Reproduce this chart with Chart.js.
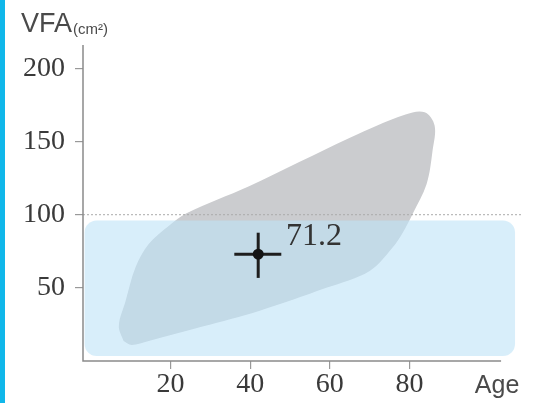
<!DOCTYPE html>
<html>
<head>
<meta charset="utf-8">
<script src="https://cdn.jsdelivr.net/npm/chart.js@4.4.1/dist/chart.umd.min.js"></script>
<style>
  html, body { margin: 0; padding: 0; background: #fff; }
  #wrap { position: relative; width: 542px; height: 403px; }
  #bar { position: absolute; left: 0; top: 0; width: 5px; height: 403px; background: #10b7ea; }
</style>
</head>
<body>
<div id="wrap">
  <canvas id="vfaChart" width="542" height="403"></canvas>
  <div id="bar"></div>
</div>
<script>
// ticks
const xTickVals = [20, 40, 60, 80];
const yTickVals = [50, 100, 150, 200];
const xRange = [-2, 108];
const yRange = [0, 216];
const xAxisEnd = 103;

// grey reference region (age, VFA) outline
const blobAge = [8.2, 7.0, 8.7, 11.2, 14.5, 19.6, 24.0, 39.7, 52.3, 64.9, 79.0, 83.8, 86.3, 85.8, 84.3, 80.8, 78.3, 75.7, 70.0, 59.1, 42.2, 28.0, 14.5, 10.2, 8.2];
const blobVfa = [13.7, 24, 41, 64, 80, 92.5, 101, 119.5, 136, 152.5, 168.5, 170, 161, 144, 121, 100.7, 87.7, 77.4, 61.6, 50, 34.2, 23.5, 13.7, 11, 13.7];

// normal range box (below 100 cm2)
const boxAge = [-1.6, 106.5];
const boxVfa = [3.4, 96];

// threshold line
const threshold = 100;

// patient measurement
const patientAge = 42;
const patientVfa = 73;
const ageErr = [36, 47.8];
const vfaErr = [56.8, 87.7];
const patientLabel = '71.2';
const labelAt = [49, 79];

const ctx = document.getElementById('vfaChart').getContext('2d');

const decor = {
  id: 'decor',
  afterDatasetDraw(chart, args) {
    if (args.index !== 4) return;
    const c = chart.ctx, xs = chart.scales.x, ys = chart.scales.y;
    // fill blob shape
    const line = args.meta.dataset;
    c.save();
    c.beginPath();
    line.path(c);
    c.closePath();
    c.fillStyle = '#cbcccf';
    c.fill();
    // blue box on top
    const x0 = xs.getPixelForValue(boxAge[0]), x1 = xs.getPixelForValue(boxAge[1]);
    const y0 = ys.getPixelForValue(boxVfa[1]), y1 = ys.getPixelForValue(boxVfa[0]);
    c.beginPath();
    c.roundRect(x0, y0, x1 - x0, y1 - y0, 12);
    c.fillStyle = 'rgba(190,227,247,0.6)';
    c.fill();
    c.restore();
  },
  afterDraw(chart) {
    const c = chart.ctx, xs = chart.scales.x, ys = chart.scales.y, a = chart.chartArea;
    c.save();
    // axis lines
    c.strokeStyle = '#8a8a8a';
    c.lineWidth = 1.5;
    c.beginPath();
    c.moveTo(a.left, a.top);
    c.lineTo(a.left, a.bottom);
    c.lineTo(xs.getPixelForValue(xAxisEnd), a.bottom);
    c.stroke();
    // value label
    c.fillStyle = '#333';
    c.font = '32px "Liberation Serif", serif';
    c.textBaseline = 'alphabetic';
    c.fillText(patientLabel, xs.getPixelForValue(labelAt[0]), ys.getPixelForValue(labelAt[1]));
    // axis titles
    c.fillStyle = '#4a4a4a';
    c.font = '25px "Liberation Sans", sans-serif';
    c.textAlign = 'center';
    c.textBaseline = 'middle';
    c.fillText('Age', xs.getPixelForValue(102), a.bottom + 25);
    c.textAlign = 'left';
    c.textBaseline = 'alphabetic';
    c.font = '27px "Liberation Sans", sans-serif';
    c.fillText('VFA', 21, 32);
    const w = c.measureText('VFA').width;
    c.font = '15px "Liberation Sans", sans-serif';
    c.fillText('(cm²)', 21 + w + 1, 34);
    c.restore();
  }
};

new Chart(ctx, {
  type: 'scatter',
  data: {
    datasets: [
      {
        label: 'patient',
        data: [{x: patientAge, y: patientVfa}],
        pointRadius: 5.5,
        pointBackgroundColor: '#141414',
        pointBorderWidth: 0,
        order: 0
      },
      {
        type: 'line',
        label: 'vfa range',
        data: [{x: patientAge, y: vfaErr[0]}, {x: patientAge, y: vfaErr[1]}],
        borderColor: '#1e1e1e',
        borderWidth: 3,
        pointRadius: 0,
        order: 1
      },
      {
        type: 'line',
        label: 'age range',
        data: [{x: ageErr[0], y: patientVfa}, {x: ageErr[1], y: patientVfa}],
        borderColor: '#1e1e1e',
        borderWidth: 3,
        pointRadius: 0,
        order: 1
      },
      {
        type: 'line',
        label: 'threshold',
        data: [{x: xRange[0], y: threshold}, {x: xRange[1], y: threshold}],
        borderColor: '#aaaaaa',
        borderWidth: 1,
        borderDash: [2, 2],
        pointRadius: 0,
        order: 2
      },
      {
        type: 'line',
        label: 'reference',
        data: blobAge.map((v, i) => ({x: v, y: blobVfa[i]})),
        borderColor: 'rgba(0,0,0,0)',
        borderWidth: 0,
        fill: false,
        tension: 0.35,
        pointRadius: 0,
        order: 3
      }
    ]
  },
  options: {
    responsive: false,
    animation: false,
    layout: { padding: { left: 13, right: 21, top: 45, bottom: 2 } },
    plugins: { legend: { display: false }, tooltip: { enabled: false } },
    scales: {
      x: {
        type: 'linear',
        min: xRange[0],
        max: xRange[1],
        afterBuildTicks: s => { s.ticks = xTickVals.map(v => ({value: v})); },
        border: { display: false },
        grid: { drawOnChartArea: false, tickLength: 8, color: '#999', lineWidth: 1.2 },
        ticks: { padding: 2, color: '#3a3a3a', font: { family: '"Liberation Serif", serif', size: 28, lineHeight: 1 } }
      },
      y: {
        type: 'linear',
        min: yRange[0],
        max: yRange[1],
        afterBuildTicks: s => { s.ticks = yTickVals.map(v => ({value: v})); },
        border: { display: false },
        grid: { drawOnChartArea: false, tickLength: 8, color: '#999', lineWidth: 1.2 },
        ticks: { padding: 10, color: '#3a3a3a', font: { family: '"Liberation Serif", serif', size: 28 } }
      }
    }
  },
  plugins: [decor]
});
</script>
</body>
</html>
